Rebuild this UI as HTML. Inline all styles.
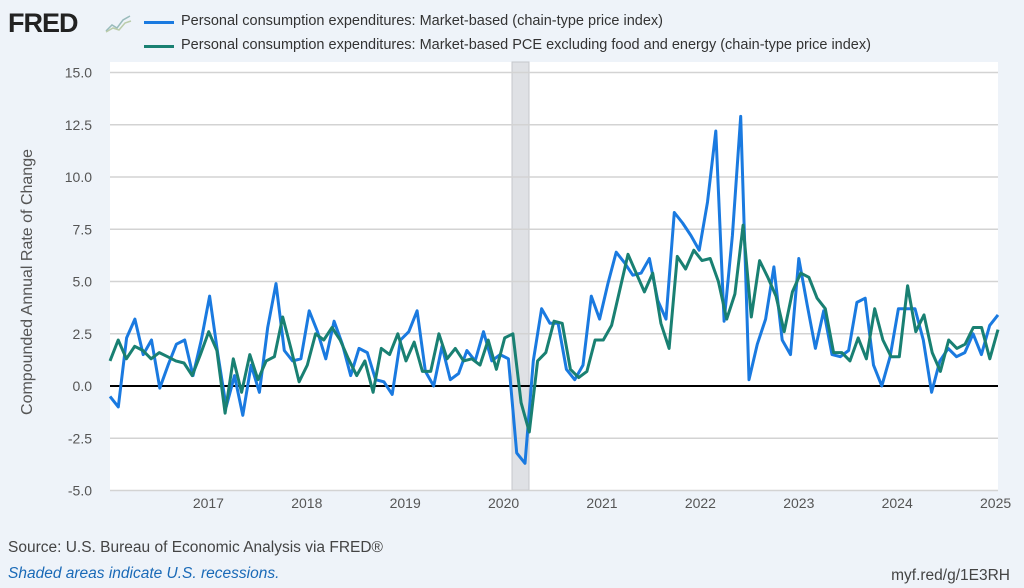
<!DOCTYPE html>
<html><head><meta charset="utf-8"><style>
body{margin:0;width:1024px;height:588px;background:#eef3f9;font-family:"Liberation Sans",sans-serif;overflow:hidden;position:relative}
.t{position:absolute;white-space:nowrap}
</style></head><body>
<div class="t" style="left:8px;top:8px;font-size:27px;font-weight:bold;letter-spacing:-1px;color:#222">FRED</div>
<svg class="t" style="left:104px;top:12px" width="30" height="22"><polyline points="2,19 8,13 13,16 19,8 26,4" fill="none" stroke="#9bb" stroke-width="1.5"/><polyline points="2,20 9,16 15,18 21,11 27,9" fill="none" stroke="#bca" stroke-width="1.5"/></svg>
<div class="t" style="left:144px;top:21px;width:30px;height:3px;background:#1a7ae0"></div>
<div class="t" style="left:144px;top:45px;width:30px;height:3px;background:#198072"></div>
<div class="t" style="left:181px;top:13px;font-size:14.5px;color:#333">Personal consumption expenditures: Market-based (chain-type price index)</div>
<div class="t" style="left:181px;top:37px;font-size:14.5px;color:#333">Personal consumption expenditures: Market-based PCE excluding food and energy (chain-type price index)</div>
<svg class="t" style="left:0;top:0" width="1024" height="588" id="s">
<rect x="110" y="62" width="888" height="428" fill="#fff"/>
<rect x="512" y="62" width="17" height="428" fill="#dfe1e5" stroke="#c4c7cc"/>
<g id="g" stroke="#d3d3d3" stroke-width="1.5"></g>
<line x1="110" x2="998" y1="386" y2="386" stroke="#000" stroke-width="2"/>
<polyline id="b" fill="none" stroke="#1a7ae0" stroke-width="3" stroke-linejoin="round"/>
<polyline id="c" fill="none" stroke="#198072" stroke-width="3" stroke-linejoin="round"/>
<g id="lab" font-size="14" fill="#555" font-family="Liberation Sans,sans-serif"></g>
<text transform="translate(32,282) rotate(-90)" text-anchor="middle" font-size="16" fill="#555" font-family="Liberation Sans,sans-serif">Compounded Annual Rate of Change</text>
</svg>
<div class="t" style="left:8px;top:539px;font-size:15.5px;color:#444">Source: U.S. Bureau of Economic Analysis via FRED®</div>
<div class="t" style="left:8px;top:565px;font-size:15.5px;color:#1a6ab7;font-style:italic">Shaded areas indicate U.S. recessions.</div>
<div class="t" style="right:14px;top:567px;font-size:15.5px;color:#444">myf.red/g/1E3RH</div>
<script>
var NS="http://www.w3.org/2000/svg";
function Y(v){return 386-v*20.9;}
var g=document.getElementById('g'),lab=document.getElementById('lab');
for(var v=-5;v<=15;v+=2.5){var l=document.createElementNS(NS,'line');l.setAttribute('x1',110);l.setAttribute('x2',998);l.setAttribute('y1',Y(v));l.setAttribute('y2',Y(v));g.appendChild(l);
var t=document.createElementNS(NS,'text');t.setAttribute('x',92);t.setAttribute('y',Y(v)+5);t.setAttribute('text-anchor','end');t.textContent=v.toFixed(1);lab.appendChild(t);}
for(var yr=2017;yr<=2025;yr++){var x=110+(yr-2016)*12*8.2;var t=document.createElementNS(NS,'text');t.setAttribute('x',x);t.setAttribute('y',508);t.setAttribute('text-anchor','middle');t.textContent=yr;lab.appendChild(t);}
var B=[-0.5,-1,2.3,3.2,1.5,2.2,-0.1,1,2,2.2,0.5,2.2,
4.3,1.5,-1,0.5,-1.4,1,-0.3,2.8,4.9,1.7,1.2,1.3,
3.6,2.6,1.3,3.1,2,0.5,1.8,1.6,0.3,0.2,-0.4,2.2,
2.6,3.6,0.7,0,1.9,0.3,0.6,1.7,1.2,2.6,1.2,1.5,
1.3,-3.2,-3.7,1.2,3.7,3.0,3.0,0.8,0.3,1.0,4.3,3.2,
4.9,6.4,5.9,5.3,5.4,6.1,4.1,3.2,8.3,7.8,7.2,6.5,
8.8,12.2,3.1,7.2,12.9,0.3,2.0,3.2,5.7,2.2,1.5,6.1,
3.9,1.8,3.6,1.5,1.4,1.7,4.0,4.2,1.0,0,1.4,3.7,
3.7,3.7,2.2,-0.3,1.2,1.8,1.4,1.6,2.5,1.5,2.9,3.4];
var C=[1.2,2.2,1.3,1.9,1.7,1.3,1.6,1.4,1.2,1.1,0.5,1.5,
2.6,1.7,-1.3,1.3,-0.3,1.5,0.3,1.2,1.4,3.3,1.8,0.2,
1.0,2.5,2.2,2.8,2.2,1.3,0.5,1.2,-0.3,1.8,1.5,2.5,
1.2,2.1,0.7,0.7,2.5,1.3,1.8,1.2,1.3,1.0,2.2,0.8,
2.3,2.5,-0.8,-2.2,1.2,1.6,3.1,3.0,0.8,0.4,0.7,2.2,
2.2,2.9,4.6,6.3,5.4,4.5,5.4,3.0,1.8,6.2,5.6,6.5,
6.0,6.1,5.0,3.2,4.4,7.7,3.3,6.0,5.2,4.3,2.6,4.5,
5.4,5.2,4.2,3.7,1.6,1.6,1.2,2.3,1.3,3.7,2.2,1.4,
1.4,4.8,2.6,3.4,1.6,0.7,2.2,1.8,2.0,2.8,2.8,1.3,2.7];
function pts(a){return a.map(function(v,i){return (110+i*888/(a.length-1)).toFixed(1)+','+Y(v).toFixed(1)}).join(' ');}
document.getElementById('b').setAttribute('points',pts(B));
document.getElementById('c').setAttribute('points',pts(C));
</script>
</body></html>
